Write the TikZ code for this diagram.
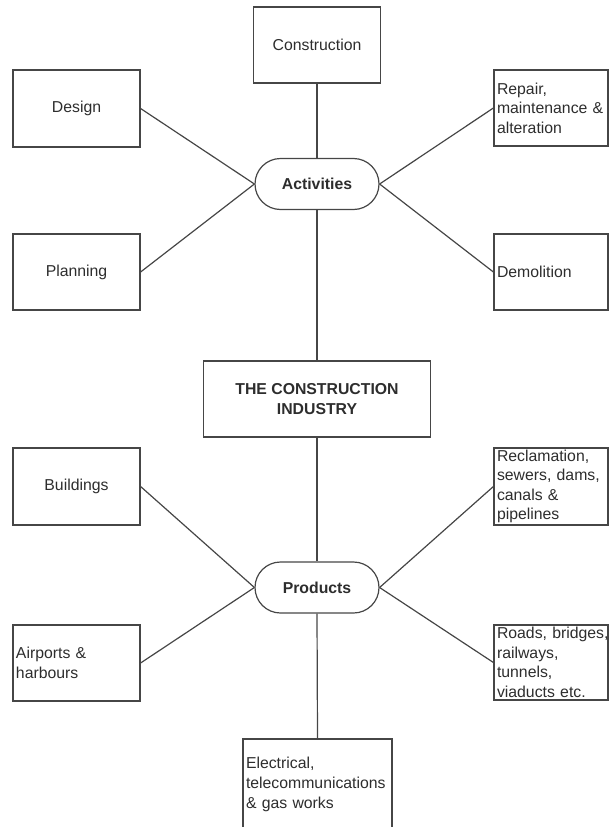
\documentclass[tikz,border=0pt]{standalone}
\usepackage{fontspec}
\setmainfont{Liberation Sans}
\usetikzlibrary{shapes.misc}
\definecolor{ink}{RGB}{45,45,45}
\definecolor{edge}{RGB}{70,70,70}
\begin{document}
\begin{tikzpicture}[x=1pt,y=-1pt,
  every node/.style={font=\fontsize{15.8}{19.6}\selectfont, text=ink},
  box/.style={draw=edge, line width=1.2pt, rectangle, inner sep=0pt, align=center},
  lbox/.style={draw=edge, line width=1.2pt, rectangle, inner xsep=3pt, inner ysep=0pt, align=left},
  pill/.style={draw=edge, line width=1.2pt, rounded rectangle, minimum width=124pt, minimum height=51pt, inner sep=0pt, font=\fontsize{15.8}{19.6}\selectfont\bfseries},
  link/.style={draw=edge, line width=1.2pt}]
\useasboundingbox (0,0) rectangle (609,827);
\begin{scope}
\clip (0,0) rectangle (609,827);
% Activities
\node[pill] (act) at (317,184) {Activities};
\node[box, minimum width=127pt, minimum height=76pt] (cons) at (317,45) {Construction};
\node[box, minimum width=127pt, minimum height=77pt] (design) at (76.5,108.5) {Design};
\node[box, minimum width=127pt, minimum height=76pt] (plan) at (76.5,272) {Planning};
\node[lbox, minimum width=114pt, minimum height=76pt, text width=108pt] (repair) at (551,108) {Repair,\\\mbox{maintenance \&}\\alteration};
\node[lbox, minimum width=114pt, minimum height=76pt, text width=108pt] (demol) at (551,272) {Demolition};
% Centre
\node[box, minimum width=227pt, minimum height=76pt, font=\fontsize{15.8}{19.6}\selectfont\bfseries] (ind) at (317,399) {THE CONSTRUCTION\\INDUSTRY};
% Products
\node[pill] (prod) at (317,587.5) {Products};
\node[box, minimum width=127pt, minimum height=77pt] (build) at (76.5,486.5) {Buildings};
\node[lbox, minimum width=127pt, minimum height=76pt, text width=121pt] (air) at (76.5,663) {Airports \&\\harbours};
\node[lbox, minimum width=114pt, minimum height=77pt, text width=108pt] (recl) at (551,486.5) {\mbox{Reclamation,}\\\mbox{sewers, dams,}\\canals \&\\pipelines};
\node[lbox, minimum width=114pt, minimum height=75pt, text width=108pt] (roads) at (551,662.5) {\mbox{Roads, bridges,}\\railways,\\tunnels,\\\mbox{viaducts etc.}};
\node[lbox, minimum width=149pt, minimum height=91pt, text width=143pt] (elec) at (317.5,784.5) {Electrical,\\\mbox{telecommunications}\\\& gas works};
% connectors
\draw[link] (cons.south) -- (act.north);
\draw[link] (design.east) -- (act.west);
\draw[link] (plan.east) -- (act.west);
\draw[link] (repair.west) -- (act.east);
\draw[link] (demol.west) -- (act.east);
\draw[link] (act.south) -- (ind.north);
\draw[link] (ind.south) -- (prod.north);
\draw[link] (build.east) -- (prod.west);
\draw[link] (air.east) -- (prod.west);
\draw[link] (recl.west) -- (prod.east);
\draw[link] (roads.west) -- (prod.east);
\draw[link] (prod.south) -- (elec.north);
\end{scope}
\end{tikzpicture}
\end{document}
